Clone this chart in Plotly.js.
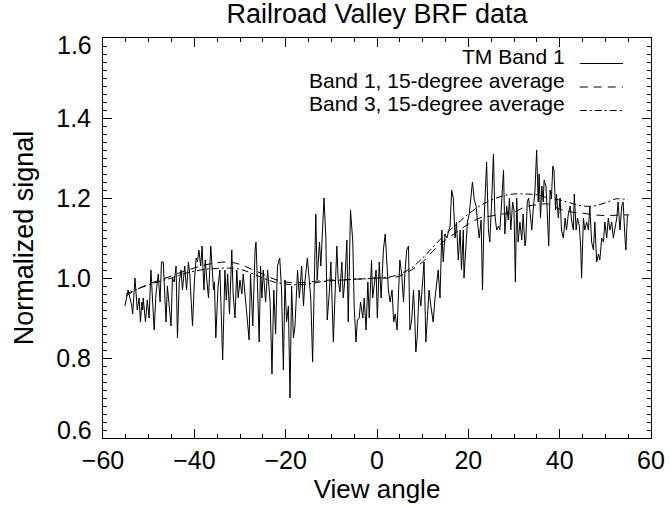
<!DOCTYPE html>
<html>
<head>
<meta charset="utf-8">
<script src="https://cdn.plot.ly/plotly-3.0.1.min.js"></script>
<style>html,body{margin:0;padding:0;background:#fff;}</style>
</head>
<body>
<div id="chart" style="width:671px;height:508px;"></div>
<script>
// ---- data ----
const tmAngle = [
-55.2,-54.5,-53.7,-53.5,-53.0,-52.5,-52.1,-51.8,-51.5,-51.3,-51.2,-50.7,-50.3,-49.9,-49.5,-48.8,-48.4,-47.9,-47.5,-47.2,
-46.8,-46.2,-45.9,-45.7,-45.1,-44.8,-44.4,-44.0,-43.7,-43.3,-42.9,-42.6,-42.1,-41.7,-41.3,-41.0,-40.4,-40.0,-39.6,-39.3,
-39.0,-38.6,-38.3,-37.9,-37.6,-37.3,-36.9,-36.4,-35.8,-35.6,-35.3,-34.8,-34.4,-33.8,-33.3,-33.0,-32.7,-32.3,-32.1,-31.8,
-31.5,-31.1,-30.7,-30.4,-30.0,-29.6,-29.3,-28.7,-28.0,-27.7,-27.2,-26.7,-26.5,-26.2,-25.8,-25.5,-25.2,-24.9,-24.4,-23.95,
-23.7,-23.4,-23.0,-22.6,-22.2,-21.8,-21.3,-20.9,-20.5,-20.15,-19.8,-19.4,-19.05,-18.7,-18.3,-17.96,-17.4,-17.0,-16.5,-16.1,
-15.8,-15.25,-14.8,-14.5,-14.1,-13.7,-13.4,-13.1,-12.6,-12.3,-12.0,-11.6,-11.2,-10.9,-10.4,-10.1,-9.56,-9.2,-8.8,-8.5,
-8.1,-7.7,-7.4,-7.0,-6.6,-6.3,-5.8,-5.3,-5.0,-4.6,-4.3,-3.9,-3.6,-3.1,-2.8,-2.4,-2.0,-1.7,-1.2,-0.95,
-0.6,-0.2,0.07,0.5,0.9,1.4,1.8,2.1,2.5,2.85,3.3,3.65,4.0,4.4,4.75,5.0,5.4,5.8,6.1,6.5,
6.9,7.2,7.6,8.0,8.3,8.5,8.8,9.2,9.6,9.9,10.3,10.7,11.0,11.4,11.8,12.3,12.7,13.1,13.4,13.8,
14.2,14.5,14.9,15.3,16.0,16.35,16.7,17.1,17.4,17.8,18.2,18.5,18.9,19.05,19.5,19.8,20.2,20.5,20.9,21.3,
21.7,22.0,22.4,22.8,23.1,23.4,23.7,24.0,24.4,24.7,25.1,25.5,25.8,26.2,26.6,26.9,27.3,27.7,28.0,28.4,
28.75,29.0,29.3,29.7,30.0,30.3,30.6,30.9,31.3,31.7,32.0,32.4,32.6,32.9,33.2,33.5,33.9,34.2,34.6,34.96,
35.3,35.5,35.8,36.1,36.4,36.6,37.0,37.3,37.6,37.9,38.2,38.5,38.75,39.1,39.3,39.7,40.1,40.4,40.8,41.2,
41.5,41.9,42.3,42.6,43.0,43.2,43.6,43.9,44.3,44.6,44.8,45.2,45.5,45.9,46.3,46.6,47.0,47.4,47.7,48.1,
48.5,48.8,49.2,49.6,49.9,50.3,50.65,51.0,51.4,51.75,52.1,52.5,52.8,53.2,53.6,53.9,54.3,54.5,54.8,55.0
];
const tmBand1 = [
0.93,0.97,0.93,0.91,1.00,0.92,0.95,0.89,0.94,0.92,0.95,0.89,0.945,0.90,1.02,0.87,0.96,1.01,0.94,1.04,
1.04,0.89,0.98,0.95,0.88,1.00,0.99,1.03,0.85,0.99,1.02,0.97,1.03,0.97,1.04,1.01,0.88,0.99,1.05,1.04,
1.07,1.03,1.08,0.97,1.045,1.00,0.95,1.08,0.97,0.99,0.85,0.98,1.02,0.795,1.02,0.945,1.01,0.91,0.99,1.07,
0.96,0.90,1.02,0.95,0.995,0.96,1.01,0.94,0.845,1.01,0.88,1.07,1.09,0.995,0.84,1.03,0.95,1.02,0.94,1.02,
0.99,0.94,0.76,0.97,0.86,1.03,1.05,0.97,0.77,0.995,0.89,0.93,0.70,0.98,0.85,0.88,1.02,0.95,1.03,0.93,
0.99,1.05,0.99,0.95,0.79,1.04,1.16,0.995,1.09,1.03,1.12,1.20,1.10,0.895,0.97,1.04,0.84,0.98,1.08,0.995,
0.965,1.04,0.95,1.00,1.095,0.89,1.17,1.09,0.93,0.84,0.895,0.90,0.94,0.90,0.95,0.87,0.99,0.90,1.045,0.95,
0.99,1.02,0.90,1.04,0.95,1.07,1.11,1.04,0.97,0.94,0.97,0.89,0.91,0.87,0.97,1.045,1.01,0.94,1.01,1.07,
1.08,0.87,0.895,0.97,0.89,0.815,0.85,0.97,0.93,0.99,1.04,0.84,0.90,0.97,0.93,0.89,0.95,0.99,1.02,0.95,
1.12,1.04,1.11,1.10,1.13,1.22,1.20,1.10,1.14,1.045,1.12,1.02,1.12,1.00,1.10,1.14,1.16,1.19,1.24,1.195,
1.18,1.14,1.10,1.145,0.97,1.13,1.22,1.29,1.12,1.09,1.19,1.31,1.16,1.12,1.13,1.12,1.19,1.27,1.11,1.18,
1.145,1.20,1.12,1.19,1.17,0.99,1.20,1.09,1.14,1.095,1.16,1.08,1.095,1.19,1.20,1.17,1.12,1.17,1.22,1.32,
1.19,1.26,1.15,1.23,1.19,1.245,1.23,1.16,1.08,1.22,1.20,1.28,1.27,1.17,1.21,1.15,1.20,1.12,1.10,1.15,
1.12,1.16,1.18,1.145,1.12,1.21,1.12,1.15,1.13,1.08,1.00,1.15,1.12,1.14,1.12,1.18,1.09,1.07,1.14,1.04,
1.06,1.045,1.10,1.09,1.14,1.10,1.15,1.12,1.14,1.10,1.12,1.15,1.19,1.12,1.18,1.19,1.10,1.07,1.15,1.16
];
const avgAngle = [-55,-52.5,-50,-47.5,-45,-42.5,-40,-37.5,-35,-32.5,-30,-27.5,-25,-22.5,-20,-17.5,-15,-12.5,-10,-7.5,
-5,-2.5,0,2.5,5,7.5,10,12.5,15,17.5,20,22.5,25,27.5,30,32.5,35,37.5,40,42.5,45,47.5,50,52.5,55];
const band1Avg = [0.955,0.972,0.985,0.995,1.005,1.016,1.025,1.033,1.038,1.040,1.034,1.022,1.010,0.997,0.990,0.988,0.990,0.993,0.995,0.995,
0.997,0.998,1.000,1.000,1.005,1.020,1.040,1.070,1.095,1.115,1.135,1.150,1.155,1.160,1.165,1.178,1.183,1.185,1.172,1.165,
1.162,1.158,1.156,1.157,1.158];
const band3Avg = [0.960,0.972,0.983,0.992,1.000,1.010,1.017,1.022,1.024,1.025,1.022,1.012,1.000,0.990,0.985,0.983,0.985,0.990,0.993,0.995,
0.997,0.998,1.000,1.002,1.010,1.025,1.050,1.080,1.110,1.135,1.160,1.180,1.195,1.205,1.210,1.210,1.208,1.200,1.195,1.187,
1.180,1.180,1.188,1.198,1.195];
const seriesNames = ["TM Band 1", "Band 1, 15-degree average", "Band 3, 15-degree average"];
const xTicks = [-60,-40,-20,0,20,40,60];
const yTicks = [0.6,0.8,1.0,1.2,1.4,1.6];
const yTickText = ["0.6","0.8","1.0","1.2","1.4","1.6"];

const FONT = "'Liberation Sans', Arial, Helvetica, sans-serif";
const dashStyles = ["solid", "8px,6px", "7px,3px,2px,3px"];

const traces = [
  {x: tmAngle, y: tmBand1, type: "scatter", mode: "lines", name: seriesNames[0],
   line: {color: "#000", width: 1, dash: dashStyles[0]}},
  {x: avgAngle, y: band1Avg, type: "scatter", mode: "lines", name: seriesNames[1], line: {color: "#000", width: 1, dash: dashStyles[1], shape: "spline"}},
  {x: avgAngle, y: band3Avg, type: "scatter", mode: "lines", name: seriesNames[2], line: {color: "#000", width: 1, dash: dashStyles[2], shape: "spline"}}
];

// legend (IDL style: text, then line sample at right)
const legRowsY = [0.95375, 0.895, 0.83625];
const legLineY = [0.93625, 0.8775, 0.81875];
const annotations = [];
const shapes = [];
seriesNames.forEach((n, i) => {
  annotations.push({xref: "paper", yref: "paper", x: 0.845, y: legRowsY[i], xanchor: "right", yanchor: "middle",
    borderpad: 0, text: n, showarrow: false, font: {family: FONT, size: 21, color: "#000"}});
  shapes.push({type: "line", xref: "paper", yref: "paper", x0: 0.870, x1: 0.949, y0: legLineY[i], y1: legLineY[i],
    line: {color: "#000", width: 1, dash: dashStyles[i]}});
});
// end y labels sit inside the frame extent (IDL style)
const endLabelShift = {0: 8, 5: -7};
[0, 5].forEach(k => {
  annotations.push({xref: "paper", yref: "y", x: 0, y: yTicks[k], xanchor: "right", yanchor: "middle",
    xshift: -9, yshift: endLabelShift[k], text: yTickText[k], showarrow: false,
    font: {family: FONT, size: 25, color: "#000"}});
});

const layout = {
  width: 671, height: 508,
  margin: {l: 103, r: 20, t: 38, b: 70, pad: 0},
  paper_bgcolor: "#fff", plot_bgcolor: "#fff",
  showlegend: false,
  font: {family: FONT, color: "#000"},
  title: {text: "Railroad Valley BRF data", font: {family: FONT, size: 27, color: "#000"},
          xref: "paper", x: 0.5, xanchor: "center", yref: "container", y: 1 - 14/508, yanchor: "middle"},
  xaxis: {
    range: [-60, 60], tickvals: xTicks, ticks: "inside", ticklen: 9, tickwidth: 1, tickcolor: "#000",
    showline: true, linecolor: "#000", linewidth: 1, mirror: "allticks", showgrid: false, zeroline: false,
    minor: {dtick: 5, tick0: 0, ticks: "inside", ticklen: 4, tickwidth: 1, tickcolor: "#000", showgrid: false},
    tickfont: {family: FONT, size: 25, color: "#000"}, ticklabelstandoff: 0,
    title: {text: "View angle", font: {family: FONT, size: 26, color: "#000"}, standoff: 5}
  },
  yaxis: {
    range: [0.6, 1.6], tickvals: yTicks, ticktext: ["", "0.8", "1.0", "1.2", "1.4", ""],
    ticks: "inside", ticklen: 9, tickwidth: 1, tickcolor: "#000",
    showline: true, linecolor: "#000", linewidth: 1, mirror: "allticks", showgrid: false, zeroline: false,
    minor: {dtick: 0.02, tick0: 0, ticks: "inside", ticklen: 4, tickwidth: 1, tickcolor: "#000", showgrid: false},
    tickfont: {family: FONT, size: 25, color: "#000"}, ticklabelstandoff: 6,
    title: {text: "Normalized signal", font: {family: FONT, size: 27, color: "#000"}, standoff: 14}
  },
  annotations: annotations,
  shapes: shapes
};

Plotly.newPlot("chart", traces, layout, {staticPlot: true, displayModeBar: false});
</script>
</body>
</html>
